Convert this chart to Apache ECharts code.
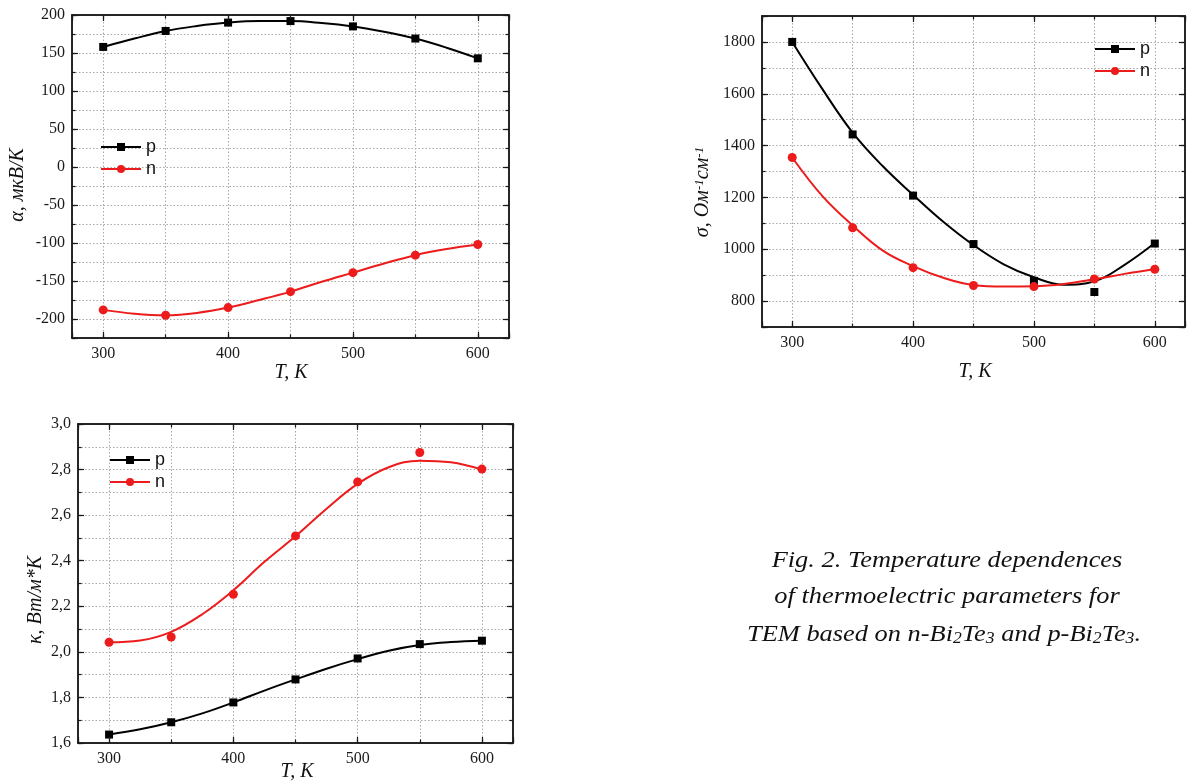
<!DOCTYPE html>
<html><head><meta charset="utf-8">
<script src="https://cdn.jsdelivr.net/npm/echarts@6/dist/echarts.min.js"></script>
<style>html,body{margin:0;padding:0;background:#fff}#c{width:1188px;height:782px}</style>
</head><body><div id="c"></div>
<script>
// ---------- data ----------
const T_points = [300, 350, 400, 450, 500, 550, 600];
const T_curve = [300, 325, 350, 375, 400, 425, 450, 475, 500, 525, 550, 575, 600];
const xTickLabels = ['300', '400', '500', '600'];

const alphaP = [158, 179, 190, 192, 185, 169, 143];
const alphaN = [-188, -195, -185, -164, -139, -116, -102];
const alphaPCurve = [158, 169, 179, 185.5, 190, 192, 192, 189.5, 185, 178, 169, 157, 143];
const alphaNCurve = [-188, -193, -195, -192, -185, -175, -164, -151, -139, -127, -116, -108, -102];
const alphaTicks = ['-200', '-150', '-100', '-50', '0', '50', '100', '150', '200'];

const sigmaP = [1800, 1443, 1207, 1020, 878, 835, 1022];
const sigmaN = [1354, 1083, 929, 860, 856, 885, 923];
const sigmaPCurve = [1800, 1618, 1450, 1320, 1210, 1106, 1016, 942, 892, 863, 876, 940, 1024];
const sigmaNCurve = [1354, 1205, 1092, 995, 935, 890, 862, 856, 857, 866, 884, 905, 924];
const sigmaTicks = ['800', '1000', '1200', '1400', '1600', '1800'];

const kappaP = [1.637, 1.691, 1.778, 1.879, 1.971, 2.034, 2.049];
const kappaN = [2.042, 2.065, 2.253, 2.509, 2.746, 2.875, 2.802];
const kappaPCurve = [1.637, 1.66, 1.691, 1.73, 1.778, 1.83, 1.879, 1.926, 1.968, 2.005, 2.03, 2.043, 2.049];
const kappaNCurve = [2.042, 2.05, 2.088, 2.165, 2.27, 2.395, 2.507, 2.628, 2.737, 2.81, 2.839, 2.832, 2.80];
const kappaTicks = ['1,6', '1,8', '2,0', '2,2', '2,4', '2,6', '2,8', '3,0'];

const seriesNames = ['p', 'n'];

// ---------- styling / building ----------
const AX = '#1a1a1a';
const GRIDC = '#a8a8a8';
const BLACK = '#000000';
const RED = '#ec1c1c';
const SERIF = '"Liberation Serif", "Times New Roman", serif';
const zip = (xs, ys) => xs.map((x, i) => [x, ys[i]]);

const tick = len => ({show: true, inside: true, length: len, lineStyle: {color: AX, width: 1.2}});
const gridLine = {show: true, lineStyle: {color: GRIDC, type: [1.5, 2], width: 1}};

function xAxesFor(gi) {
  const common = {type: 'value', gridIndex: gi, min: 275, max: 625,
    axisLine: {show: true, onZero: false, lineStyle: {color: AX, width: 1.5}},
    splitLine: {show: false}, axisLabel: {show: false}, axisTick: {show: false}, z: 6};
  return [
    Object.assign({}, common, {position: 'bottom', minInterval: 100, maxInterval: 100, axisTick: tick(6),
      axisLabel: {show: true, margin: 8, color: '#1a1a1a', fontFamily: SERIF, fontSize: 16,
        formatter: v => xTickLabels.includes(String(v)) ? String(v) : ''}}),
    Object.assign({}, common, {position: 'bottom', minInterval: 50, maxInterval: 50, axisTick: tick(3.5), splitLine: gridLine, z: 1}),
    Object.assign({}, common, {position: 'top', minInterval: 100, maxInterval: 100, axisTick: tick(6)}),
    Object.assign({}, common, {position: 'top', minInterval: 50, maxInterval: 50, axisTick: tick(3.5)})
  ];
}

function yAxesFor(gi, min, max, majorCfg, minorCfg, labels, fmt) {
  const common = {type: 'value', gridIndex: gi, min: min, max: max,
    axisLine: {show: true, onZero: false, lineStyle: {color: AX, width: 1.5}},
    splitLine: {show: false}, axisLabel: {show: false}, axisTick: {show: false}, z: 6};
  return [
    Object.assign({}, common, majorCfg, {position: 'left', axisTick: tick(6),
      axisLabel: {show: true, margin: 7, color: '#1a1a1a', fontFamily: SERIF, fontSize: 16,
        formatter: v => { const s = fmt(v); return labels.includes(s) ? s : ''; }}}),
    Object.assign({}, common, minorCfg, {position: 'left', axisTick: tick(3.5), splitLine: gridLine, z: 1}),
    Object.assign({}, common, majorCfg, {position: 'right', axisTick: tick(6)}),
    Object.assign({}, common, minorCfg, {position: 'right', axisTick: tick(3.5)})
  ];
}

function seriesFor(gi, pCurve, nCurve, pPts, nPts) {
  const ax = {xAxisIndex: gi * 4, yAxisIndex: gi * 4};
  return [
    Object.assign({type: 'line', name: seriesNames[0], data: zip(T_curve, pCurve), smooth: 0.4, showSymbol: false,
      symbol: 'rect', symbolSize: 8, lineStyle: {color: BLACK, width: 2}, itemStyle: {color: BLACK, opacity: 1}, z: 3}, ax),
    Object.assign({type: 'line', name: seriesNames[1], data: zip(T_curve, nCurve), smooth: 0.4, showSymbol: false,
      symbol: 'circle', symbolSize: 9, lineStyle: {color: RED, width: 2}, itemStyle: {color: RED, opacity: 1}, z: 3}, ax),
    Object.assign({type: 'scatter', name: 'p points', data: zip(T_points, pPts), symbol: 'rect', symbolSize: 8,
      itemStyle: {color: BLACK, opacity: 1}, z: 4}, ax),
    Object.assign({type: 'scatter', name: 'n points', data: zip(T_points, nPts), symbol: 'circle', symbolSize: 9,
      itemStyle: {color: RED, opacity: 1}, z: 4}, ax)
  ];
}

function legendAt(left, top) {
  return {data: seriesNames, orient: 'vertical', left: left, top: top, padding: 0,
    itemWidth: 40, itemHeight: 10, itemGap: 4, selectedMode: false,
    textStyle: {fontFamily: '"Liberation Sans", Arial, sans-serif', fontSize: 18, color: '#111'}};
}

const titleFont = 'italic 20px ' + SERIF;
function vText(x, y, text, rich) {
  return {type: 'text', x: x, y: y, rotation: Math.PI / 2,
    style: {text: text, font: titleFont, fill: '#111', rich: rich,
      align: 'center', verticalAlign: 'middle', textAlign: 'center', textVerticalAlign: 'middle'}};
}
function hText(x, y, text, font, rich, scaleX) {
  return {type: 'text', x: x, y: y, scaleX: scaleX || 1,
    style: {text: text, font: font || titleFont, fill: '#111', rich: rich,
      align: 'center', verticalAlign: 'middle', textAlign: 'center', textVerticalAlign: 'middle'}};
}

const supRich = {
  n: {font: titleFont, lineHeight: 26, verticalAlign: 'top'},
  u: {font: 'italic 13px ' + SERIF, lineHeight: 14, verticalAlign: 'top'}
};
const capFont = 'italic 24px ' + SERIF;
const capRich = {
  n: {font: capFont, lineHeight: 30, verticalAlign: 'bottom', fill: '#111'},
  s: {font: 'italic 16px ' + SERIF, lineHeight: 16, verticalAlign: 'bottom', fill: '#111'}
};

const option = {
  animation: false,
  backgroundColor: '#ffffff',
  grid: [
    {left: 72, top: 15, width: 437, height: 323},
    {left: 762, top: 16, width: 425, height: 311},
    {left: 78, top: 424, width: 435, height: 319}
  ],
  xAxis: [].concat(xAxesFor(0), xAxesFor(1), xAxesFor(2)),
  yAxis: [].concat(
    yAxesFor(0, -225, 200, {minInterval: 50, maxInterval: 50}, {interval: 25}, alphaTicks, v => String(v)),
    yAxesFor(1, 700, 1900, {minInterval: 200, maxInterval: 200}, {interval: 100}, sigmaTicks, v => String(v)),
    yAxesFor(2, 1.6, 3.0, {interval: 0.2}, {interval: 0.1}, kappaTicks, v => v.toFixed(1).replace('.', ','))
  ),
  legend: [legendAt(100, 138), legendAt(1094, 40), legendAt(109, 451)],
  series: [].concat(
    seriesFor(0, alphaPCurve, alphaNCurve, alphaP, alphaN),
    seriesFor(1, sigmaPCurve, sigmaNCurve, sigmaP, sigmaN),
    seriesFor(2, kappaPCurve, kappaNCurve, kappaP, kappaN)
  ),
  graphic: [
    vText(18, 185, 'α, мкВ/К'),
    vText(706, 192, '{n|σ, Ом}{u|-1}{n|см}{u|-1}', supRich),
    vText(36, 600, 'κ, Вт/м*К'),
    hText(291, 373, 'T, K'),
    hText(975, 372, 'T, K'),
    hText(297, 772, 'T, K'),
    hText(947, 561, 'Fig. 2. Temperature dependences', capFont, null, 1.1),
    hText(947, 597, 'of thermoelectric parameters for', capFont, null, 1.1),
    hText(944, 632, '{n|TEM based on n-Bi}{s|2}{n|Te}{s|3}{n| and p-Bi}{s|2}{n|Te}{s|3}{n|.}', capFont, capRich, 1.1)
  ]
};

const chart = echarts.init(document.getElementById('c'), null, {renderer: 'canvas'});
chart.setOption(option);
</script>
</body></html>
